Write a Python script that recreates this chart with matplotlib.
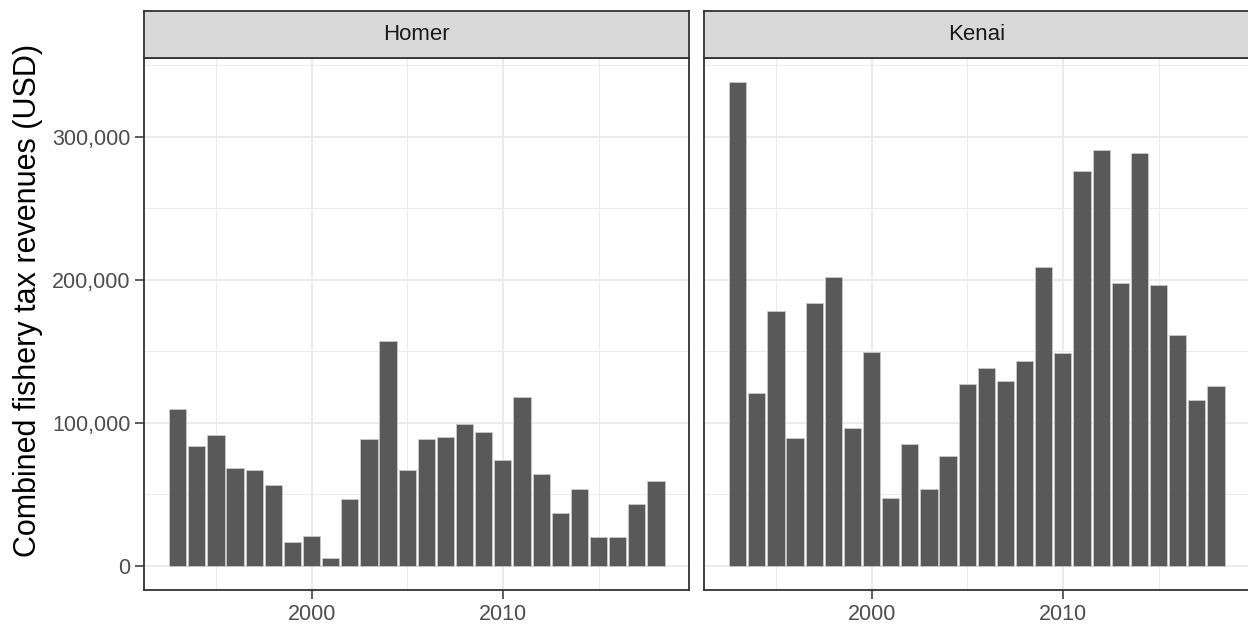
import numpy as np
import matplotlib.pyplot as plt
from matplotlib.ticker import FuncFormatter, MultipleLocator

plt.rcParams['font.family'] = ['Liberation Sans', 'DejaVu Sans']

# данные: годы и доходы по двум городам
years = np.arange(1993, 2019)
homer = [110000, 84000, 91800, 68400, 67000, 56700, 16900, 21100, 5200, 46600,
         89000, 157600, 67000, 89000, 90200, 99300, 93700, 73800, 117800, 63900,
         36800, 53900, 20400, 20400, 42900, 59500]
kenai = [338500, 121100, 178200, 89700, 183800, 202100, 96500, 149500, 47100, 85000,
         53400, 76600, 127000, 138400, 129500, 143500, 208800, 148800, 276200, 291000,
         198100, 289100, 196100, 161800, 115700, 126100]
panels = ['Homer', 'Kenai']
series = [homer, kenai]

W, H = 1248, 625
fig = plt.figure(figsize=(W / 100, H / 100), dpi=100)

ymax = max(max(homer), max(kenai))
ylim = (-0.05 * ymax, 1.05 * ymax)
xspan = (years[-1] + 0.45) - (years[0] - 0.45)
xlim = (years[0] - 0.45 - 0.05 * xspan, years[-1] + 0.45 + 0.05 * xspan)

lefts = [144.3, 704.3]
pw = 545.0
ptop, pbot = 57.7, 590.0
stop = 10.7
dark = '#333333'

for i, (name, vals) in enumerate(zip(panels, series)):
    ax = fig.add_axes([lefts[i] / W, 1 - pbot / H, pw / W, (pbot - ptop) / H])
    ax.bar(years, vals, width=0.9, color='#595959', edgecolor='#cfcfcf',
           linewidth=0.5, zorder=3)
    ax.set_xlim(xlim)
    ax.set_ylim(ylim)
    ax.xaxis.set_major_locator(MultipleLocator(10))
    ax.xaxis.set_minor_locator(MultipleLocator(5))
    ax.yaxis.set_major_locator(MultipleLocator(100000))
    ax.yaxis.set_minor_locator(MultipleLocator(50000))
    ax.grid(which='major', color='#EBEBEB', linewidth=1.4, zorder=0)
    ax.grid(which='minor', color='#EBEBEB', linewidth=0.7, zorder=0)
    for s in ax.spines.values():
        s.set_color(dark)
        s.set_linewidth(1.3)
    ax.tick_params(which='minor', length=0)
    ax.tick_params(which='major', length=6.5, width=1.1, color=dark,
                   labelcolor='#4D4D4D', labelsize=15.5, pad=3.5)
    ax.yaxis.set_major_formatter(FuncFormatter(lambda v, p: f'{int(v):,}'))
    if i == 0:
        ax.set_ylabel('Combined fishery tax revenues (USD)', fontsize=22,
                      color='black')
        ax.yaxis.set_label_coords((43 - lefts[0]) / pw, (pbot - 300) / (pbot - ptop))
    else:
        ax.tick_params(axis='y', which='both', left=False, labelleft=False)

    # полоса с названием панели
    sx = fig.add_axes([lefts[i] / W, 1 - ptop / H, pw / W, (ptop - stop) / H])
    sx.set_facecolor('#D9D9D9')
    sx.set_xticks([])
    sx.set_yticks([])
    for s in sx.spines.values():
        s.set_color(dark)
        s.set_linewidth(1.3)
    sx.text(0.5, 0.5, name, ha='center', va='center', fontsize=16,
            color='#1A1A1A', transform=sx.transAxes)

fig.savefig('out.png', dpi=100)
